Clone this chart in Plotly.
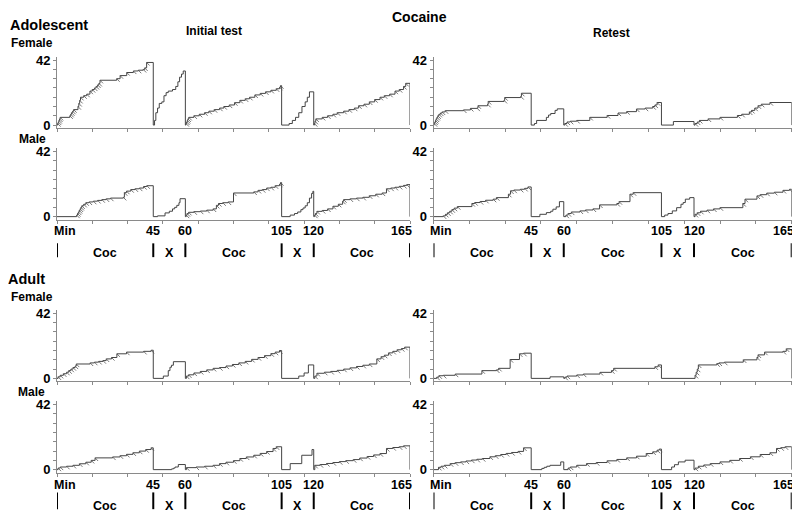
import plotly.graph_objects as go

# ---------------- data (minutes, cumulative count) ----------------
boundary_times = [0, 45, 60, 105, 120, 165]
boundary_text = ["Min", "45", "60", "105", "120", "165"]
segment_labels = ["Coc", "X", "Coc", "X", "Coc"]
y_tick_vals = [0, 6, 12, 18, 24, 30, 36, 42]
y_tick_text = ["0", "", "", "", "", "", "", "42"]

adol_f_init = [
    (0, 0), (0.3, 1), (0.6, 2), (0.9, 3), (1.2, 4), (1.5, 5), (6.0, 6), (6.4, 7), (6.8, 8), (7.3, 9), (7.8, 10),
    (9.8, 12), (10.2, 14), (10.6, 16), (11.0, 18), (12.5, 19), (13.9, 20), (15.4, 22), (16.5, 23), (17.5, 24),
    (18.3, 25), (19.0, 26), (19.6, 27), (20.1, 29), (27.9, 30), (29.5, 32), (32.6, 34), (35.7, 35), (38.0, 35.5),
    (40.3, 36), (41.0, 37), (41.9, 40.5), (45, 0),
    (45.6, 3), (46.2, 8), (47, 11), (47.8, 14), (49, 15), (50, 19), (51, 21), (52, 22), (54, 23), (55.5, 25),
    (56.5, 28), (57.3, 31), (58.2, 33), (59, 35), (60, 0),
    (60.3, 1), (60.6, 2), (60.9, 3), (61.2, 4), (61.6, 5), (64, 6), (66.5, 7), (69, 8), (71, 9), (73.5, 10),
    (76, 11), (78, 12), (80.5, 13), (83, 14.5), (85.5, 16), (88, 17), (90, 18), (92.5, 19.5), (95, 20.5),
    (97.5, 21.5), (100, 22.5), (102.5, 23.5), (104, 24.5), (104.5, 25.5), (105, 0),
    (108.5, 1), (110, 3), (111.5, 5), (113, 8), (114.5, 12), (116, 15), (117, 18), (118, 21.5), (120, 0),
    (120.3, 1), (120.6, 2.5), (121, 4), (124, 5), (126.5, 6), (129, 7), (131, 8), (134, 9), (136.5, 10),
    (139, 11), (141, 12.5), (143.5, 13.5), (146, 15), (148.5, 16.5), (151, 18), (153, 19), (155.5, 20),
    (158, 22), (160, 23), (162, 25), (163, 27), (165, 0),
]
adol_f_retest = [
    (0, 0), (0.3, 1), (0.6, 2), (0.9, 3), (1.2, 4), (1.6, 5), (2.0, 6), (2.5, 7), (3.2, 7.8), (4.0, 8.5), (5.4, 9.3),
    (13.8, 9.8), (17, 10.8), (20, 11), (20.5, 12.5), (24.9, 13.5), (25.2, 15.3), (32.5, 16), (32.8, 17.8),
    (40.2, 18.5), (40.5, 20.6), (45, 0),
    (46.5, 1), (47.5, 3), (52, 5), (53, 6.5), (54, 7.5), (56, 9.5), (57, 10.5), (60, 0),
    (60.5, 1), (61.5, 2), (63, 2.5), (66, 3), (72, 5), (80, 6.2), (85, 7.8), (89, 8.7), (93.5, 10.4), (97.5, 11),
    (101, 12), (102, 13), (103, 14.6), (105, 0),
    (110.5, 2.3), (120, 0),
    (120.5, 1), (121.5, 2), (122.5, 3), (126.5, 4), (132, 5), (140, 6.2), (142, 7), (145.5, 8.5), (146.5, 9.5),
    (148, 11), (149.5, 12.5), (151, 13.5), (155, 14.6), (165, 0),
]
adol_m_init = [
    (0, 0), (9.2, 1), (9.6, 2), (10, 3), (10.4, 4), (10.8, 5), (11.2, 6), (11.6, 7), (12.5, 8), (13.5, 9), (15, 9.5),
    (17, 10), (19, 10.5), (21, 11), (23, 11.5), (25, 12), (31, 12.5), (31.5, 15.5), (32.5, 16.5), (34.5, 17.5),
    (36.5, 18), (38.5, 18.5), (40.5, 19.5), (42, 20), (45, 0),
    (47, 0.5), (50.5, 2.4), (52.5, 3.5), (54, 5), (55, 6), (56, 7.3), (57, 9), (57.5, 11.6), (60, 0),
    (60.4, 1), (60.8, 2), (61.5, 2.8), (64, 3.2), (67, 3.6), (70, 4.2), (73, 5), (74.5, 7.3), (75.5, 8.5),
    (77.5, 9), (80, 9.5), (82.5, 15.3), (92, 16), (94, 17), (96, 17.5), (98, 18.5), (100, 19), (102, 20),
    (104, 21), (104.5, 22), (105, 0),
    (109, 1), (111, 2), (112.5, 3), (114, 4.5), (115, 5.6), (116, 7), (117, 9), (118, 12), (119, 15),
    (119.6, 16.4), (120, 0),
    (120.4, 1), (120.8, 2), (121.5, 3.4), (124, 4), (126.5, 5), (129, 6.7), (131.5, 8), (133.5, 10), (134, 11),
    (137, 11.5), (140, 12), (143, 12.5), (146, 13.5), (149, 14.5), (152, 15.3), (154, 18), (156, 18.5),
    (158, 19), (160, 19.6), (162, 20.2), (163.5, 20.7), (165, 0),
]
adol_m_retest = [
    (0, 0), (4.5, 0.5), (5.5, 1.5), (6.5, 2.5), (7.5, 3.5), (8.5, 4.5), (9.5, 5.5), (11, 6.5), (17.7, 8.5),
    (19, 9.1), (21.5, 9.8), (24, 10.6), (27.5, 11.3), (29, 12.3), (34.5, 14.5), (35.5, 16.7), (37, 17.2),
    (40, 17.7), (42, 18.3), (43.5, 19.2), (45, 0),
    (49, 1.5), (52, 2.6), (54, 3.5), (55, 4.8), (56.5, 6.3), (58, 9.7), (60, 0),
    (61, 1), (62, 2), (63.5, 3), (67.5, 3.7), (70, 4.3), (73.5, 5), (76.5, 7.6), (84.5, 8.5), (85.5, 9.7),
    (90.5, 14.5), (92, 15.5), (105, 0),
    (106.5, 1), (108, 2), (110, 3.7), (112, 5.8), (114, 8), (115, 9.1), (116, 11.3), (118, 12.3), (120, 0),
    (120.5, 1.5), (121.5, 2.5), (123, 3.5), (126, 4.2), (129, 5), (132, 5.8), (142.5, 8.5), (143.5, 11.3),
    (149, 13.4), (150.5, 14.2), (153.5, 15.2), (157, 15.8), (161, 17), (164, 17.7), (165, 0),
]
adult_f_init = [
    (0, 0), (0.5, 1), (1.5, 2), (3, 3), (4.5, 4), (5.5, 5), (6.5, 6), (7.5, 7), (8.5, 8), (9, 9.3), (15.5, 10),
    (17.5, 10.5), (19.5, 11), (21.5, 11.5), (23, 12.6), (25.5, 13.5), (28, 15.9), (32.5, 17), (40.5, 17.5),
    (44, 18.2), (45, 0),
    (49.7, 1.5), (52, 5), (52.8, 7.2), (53.5, 8.5), (54.4, 10.8), (60, 0),
    (60.5, 1.5), (61.5, 2.3), (64, 3.5), (67, 4.5), (70, 5.5), (73, 6.5), (76, 7), (79, 8), (82, 9), (85, 10),
    (88, 11), (91, 12.3), (94, 13.5), (97, 14.7), (100, 16), (102, 17), (104, 18), (105, 0),
    (113, 1.5), (115.5, 3.5), (117.5, 8.7), (120, 0),
    (120.5, 1.5), (121.5, 3.3), (125, 4), (128, 4.5), (131, 5.2), (134, 6), (137, 6.8), (140, 7.7), (143, 8.5),
    (146, 9.3), (149.5, 12.6), (151.5, 14), (153, 15), (155, 16.5), (157, 17.5), (159, 18.5), (161, 19.3),
    (162.5, 20.2), (165, 0),
]
adult_f_retest = [
    (0, 0), (1.5, 0.8), (2.5, 1.7), (4.5, 2), (10, 2.8), (22.3, 5), (29, 5.5), (30, 6.5), (35.3, 12.2),
    (39.6, 15.9), (41.5, 16.3), (45, 0),
    (53.7, 1), (60, 0),
    (60.5, 0.8), (61.5, 1.5), (66, 2.2), (69, 2.8), (76.7, 3.9), (82, 5), (83, 6.5), (102, 7.5), (103.5, 8.7),
    (105, 0),
    (120, 0),
    (120.5, 2), (121, 4), (121.5, 6), (122, 8.7), (130.5, 9.5), (131.5, 10), (134, 10.5), (142.7, 12),
    (149, 13.5), (149.5, 15.2), (152.5, 17), (161, 17.5), (162.5, 19.1), (165, 0),
]
adult_m_init = [
    (0, 0), (0.5, 1), (1.5, 1.7), (4.5, 2.2), (7.5, 2.8), (10.5, 3.8), (13.5, 4.8), (16, 6), (17.8, 7.6),
    (26, 8.2), (29.5, 9), (32.5, 9.9), (35.5, 10.9), (38.5, 12), (41.5, 13), (44, 14.1), (45, 0),
    (53.6, 0.5), (54.5, 1), (55.2, 1.7), (56.7, 3.3), (60, 0),
    (60.5, 1.3), (65, 1.7), (69, 2.2), (73, 2.8), (76, 3.9), (79, 4.8), (82.5, 5.8), (85.5, 7.2), (88.5, 8.2),
    (92, 9.3), (95, 10.5), (98, 11.7), (101, 13.7), (102.5, 14.8), (105, 0),
    (109, 3.9), (114.4, 9.3), (119.2, 13), (120, 0),
    (120.5, 2.8), (123, 3.3), (126, 4), (129, 4.6), (132, 5.2), (135, 5.8), (138.5, 6.5), (141.5, 7.5),
    (145, 8.5), (148, 9.5), (151, 10.4), (154, 13.7), (157, 14.3), (160, 14.8), (162, 15.4), (165, 0),
]
adult_m_retest = [
    (0, 0), (2.3, 1.5), (3.5, 2.2), (5, 2.8), (7.7, 3.9), (10, 4.5), (12.5, 5), (15, 5.6), (17.5, 6.2), (20, 6.7),
    (22.5, 7.2), (26, 8.3), (28.5, 9), (31, 9.8), (33.5, 10.5), (36, 11.1), (39, 11.8), (41.5, 14.1), (45, 0),
    (49.9, 0.8), (51, 1.5), (52.2, 2.2), (53.7, 2.8), (58.6, 5), (60, 0),
    (62, 1), (63, 1.7), (66, 2.8), (70.5, 3.9), (75, 4.6), (80, 5.7), (84.5, 6.6), (89, 7.6), (93.5, 8.7),
    (98, 10.4), (101, 11.5), (103, 12.6), (104, 13.3), (105, 0),
    (109.7, 1.7), (111, 3.2), (112.8, 5), (115.9, 6.1), (120, 0),
    (120.5, 1), (122, 2.2), (124.5, 3), (127.5, 3.9), (132, 5), (136.5, 6), (141, 7.2), (146, 8.3),
    (150.5, 9.8), (155, 10.9), (158, 13.7), (160, 14.2), (162, 14.8), (165, 0),
]

# ---------------- layout helpers ----------------
# the page body has an 8px margin, so the figure is drawn 8px smaller and
# all screen-pixel positions are shifted by that offset
OFF = 8
W, H = 800 - OFF, 523 - OFF
FONT = "Liberation Sans"
LINE = "#444444"
PIP = "#555555"
AXIS = "#8a8a8a"


def px(p):
    return (p - OFF) / W


def py(p):
    return 1 - (p - OFF) / H


col_dom = [(px(57), px(410)), (px(433.5), px(791.7))]
row_dom = [(py(126), py(53.3)), (py(219), py(146.3)), (py(383.3), py(310.6)), (py(476), py(403.3))]

panels = [
    (adol_f_init, 0, 0), (adol_f_retest, 0, 1),
    (adol_m_init, 1, 0), (adol_m_retest, 1, 1),
    (adult_f_init, 2, 0), (adult_f_retest, 2, 1),
    (adult_m_init, 3, 0), (adult_m_retest, 3, 1),
]

x_windows = [(boundary_times[i], boundary_times[i + 1]) for i, s in enumerate(segment_labels) if s == "X"]
PIP_DX, PIP_DY = 1.4, 2.0

fig = go.Figure()
layout = dict(
    width=W, height=H, margin=dict(l=0, r=0, t=0, b=0),
    paper_bgcolor="white", plot_bgcolor="white", showlegend=False,
    font=dict(family=FONT, color="black"),
)
annotations = []
shapes = []

for k, (pts, r, c) in enumerate(panels, start=1):
    xs = [p[0] for p in pts]
    ys = [p[1] for p in pts]
    xa = "x" if k == 1 else f"x{k}"
    ya = "y" if k == 1 else f"y{k}"
    fig.add_trace(go.Scatter(x=xs, y=ys, mode="lines", line=dict(color=LINE, width=1, shape="hv"),
                             xaxis=xa, yaxis=ya, hoverinfo="skip"))
    # pips (reinforcer marks) during cocaine components
    pxs, pys = [], []
    for t, v in pts:
        if v <= 0:
            continue
        if any(a < t < b for a, b in x_windows):
            continue
        pxs += [t, t + PIP_DX, None]
        pys += [v, v - PIP_DY, None]
    fig.add_trace(go.Scatter(x=pxs, y=pys, mode="lines", line=dict(color=PIP, width=0.8),
                             xaxis=xa, yaxis=ya, hoverinfo="skip"))

    sfx = "" if k == 1 else str(k)
    layout[f"xaxis{sfx}"] = dict(
        domain=list(col_dom[c]), anchor=ya, range=[0, boundary_times[-1]],
        tickvals=[boundary_times[-1] * i / 10 for i in range(11)], showticklabels=False,
        ticks="outside", ticklen=3, tickcolor=AXIS, showline=True, linecolor=AXIS, linewidth=1,
        showgrid=False, zeroline=False, fixedrange=True,
    )
    layout[f"yaxis{sfx}"] = dict(
        domain=list(row_dom[r]), anchor=xa, range=[-2, 44.3],
        tickvals=y_tick_vals, ticktext=y_tick_text, ticks="outside", ticklen=3, tickcolor=AXIS,
        tickfont=dict(family=FONT, size=13, color="black", weight="bold"),
        showline=True, linecolor=AXIS, linewidth=1, showgrid=False, zeroline=False, fixedrange=True,
    )

    # bottom labels for the lower row of each age group
    if r in (1, 3):
        lab_y = 230 if r == 1 else 488.3
        bar_y = (243, 257) if r == 1 else (496, 513)
        seg_y = 252.7 if r == 1 else 510
        for t, txt in zip(boundary_times, boundary_text):
            if txt == "Min":
                anc, sh = "left", -4
            elif t == boundary_times[-1]:
                anc, sh = "right", 3
            else:
                anc, sh = "center", 0
            annotations.append(dict(x=t, y=py(lab_y), xref=xa, yref="paper", text=f"<b>{txt}</b>",
                                    showarrow=False, xanchor=anc, yanchor="middle", xshift=sh, borderpad=0,
                                    font=dict(family=FONT, size=12.5, color="black")))
            shapes.append(dict(type="line", xref=xa, yref="paper", x0=t, x1=t,
                               y0=py(bar_y[0]), y1=py(bar_y[1]), line=dict(color="black", width=2)))
        for i, s in enumerate(segment_labels):
            mid = (boundary_times[i] + boundary_times[i + 1]) / 2
            annotations.append(dict(x=mid, y=py(seg_y), xref=xa, yref="paper", text=f"<b>{s}</b>",
                                    showarrow=False, xanchor="center", yanchor="middle",
                                    font=dict(family=FONT, size=12.5, color="black")))


def txt(text, x, y, size, anchor="center"):
    annotations.append(dict(x=px(x), y=py(y), xref="paper", yref="paper", text=f"<b>{text}</b>",
                            showarrow=False, xanchor=anchor, yanchor="middle", borderpad=0,
                            font=dict(family=FONT, size=size, color="black")))


txt("Cocaine", 419, 13.3, 14)
txt("Adolescent", 9, 21.7, 14.5, "left")
txt("Initial test", 213.5, 27, 12)
txt("Retest", 611, 29, 12)
txt("Female", 32, 39.3, 12)
txt("Male", 32, 137.3, 12)
txt("Adult", 7, 279, 14.5, "left")
txt("Female", 32, 297.3, 12)
txt("Male", 31, 394, 12)

layout["annotations"] = annotations
layout["shapes"] = shapes
fig.update_layout(**layout)
fig.write_html("out.html")
